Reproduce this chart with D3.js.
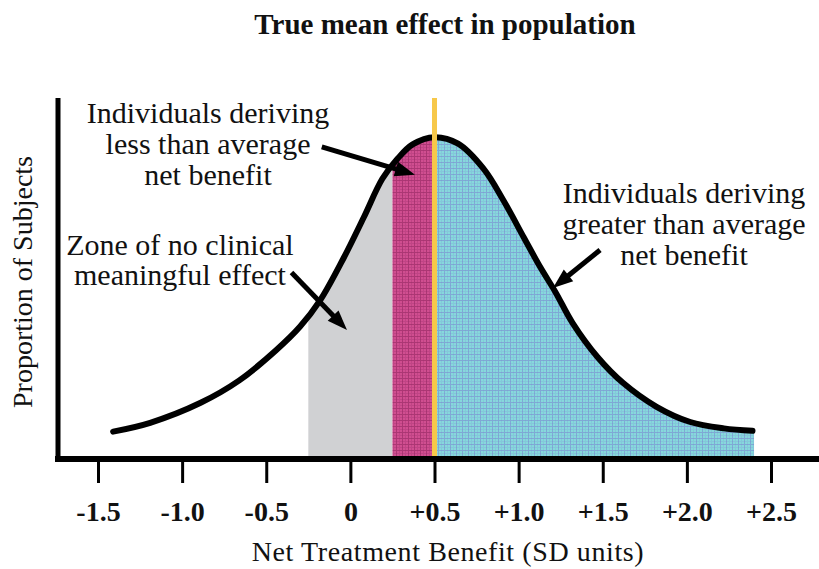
<!DOCTYPE html>
<html>
<head>
<meta charset="utf-8">
<script src="https://cdn.jsdelivr.net/npm/d3@7"></script>
<style>
  body { margin: 0; background: #fff; }
  text { font-family: "Liberation Serif", "DejaVu Serif", serif; fill: #111; }
</style>
</head>
<body>
<div id="chart"></div>
<script>
// distribution curve (x = SD units, y = proportion, arbitrary units)
const curveX = [-1.41, -1.19, -0.89, -0.66, -0.44, -0.30, -0.18, -0.04, 0.08, 0.19, 0.28, 0.37, 0.50,
                0.64, 0.79, 0.91, 1.03, 1.13, 1.22, 1.32, 1.47, 1.62, 1.82, 2.02, 2.22, 2.39]
const curveY = [0.033, 0.044, 0.069, 0.097, 0.135, 0.164, 0.197, 0.250, 0.301, 0.349, 0.374, 0.392, 0.401,
                0.393, 0.362, 0.322, 0.276, 0.238, 0.207, 0.169, 0.126, 0.094, 0.064, 0.045, 0.037, 0.034]

const tickValues = [-1.5, -1.0, -0.5, 0, 0.5, 1.0, 1.5, 2.0, 2.5]
const tickLabels = ["-1.5", "-1.0", "-0.5", "0", "+0.5", "+1.0", "+1.5", "+2.0", "+2.5"]

// shaded zones under the curve
const zoneNames = ["noEffect", "less", "greater"]
const zoneStart = [-0.25, 0.25, 0.5]
const zoneEnd = [0.25, 0.5, 2.4]
const meanEffect = 0.5

const width = 819, height = 569

const svg = d3.select("#chart").append("svg")
    .attr("width", width)
    .attr("height", height)

var x = d3.scaleLinear().domain([-1.5, 2.5]).range([98, 771])
var y = d3.scaleLinear().domain([0, 0.45]).range([458, 98])

const pts = curveX.map((d, i) => [d, curveY[i]])

// textures
const defs = svg.append("defs")
function hatch(id, base, ink, size, o1, o2) {
  const p = defs.append("pattern").attr("id", id)
      .attr("patternUnits", "userSpaceOnUse")
      .attr("width", size).attr("height", size)
  p.append("rect").attr("width", size).attr("height", size).attr("fill", base)
  p.append("path").attr("d", `M0,0.5H${size}M0.5,0V${size}`)
      .attr("stroke", ink).attr("stroke-width", 1).attr("opacity", o1)
  p.append("path").attr("d", `M0,${size / 2 + 0.5}H${size}M${size / 2 + 0.5},0V${size}`)
      .attr("stroke", ink).attr("stroke-width", 1).attr("opacity", o2)
}
hatch("pinkHatch", "#d04e90", "#9c2d68", 6, 0.7, 0.3)
hatch("cyanHatch", "#86d8dc", "#7a82d0", 6, 0.55, 0.2)
const zoneFill = { noEffect: "#d0d1d3", less: "url(#pinkHatch)", greater: "url(#cyanHatch)" }

zoneNames.forEach((z, i) => {
  defs.append("clipPath").attr("id", "clip-" + z)
    .append("rect")
      .attr("x", x(zoneStart[i]))
      .attr("width", x(zoneEnd[i]) - x(zoneStart[i]))
      .attr("y", 0).attr("height", height)
})

const area = d3.area()
    .x(d => x(d[0]))
    .y0(y(0))
    .y1(d => y(d[1]))
    .curve(d3.curveCatmullRom.alpha(0.5))

const line = d3.line()
    .x(d => x(d[0]))
    .y(d => y(d[1]))
    .curve(d3.curveCatmullRom.alpha(0.5))

// extend the filled area a little past the end of the line, as in the drawing
const areaPts = pts.concat([[zoneEnd[2], curveY[curveY.length - 1]]])

svg.selectAll(".zone")
  .data(zoneNames)
  .enter()
  .append("path")
    .attr("class", "zone")
    .attr("d", area(areaPts))
    .attr("clip-path", d => `url(#clip-${d})`)
    .attr("fill", d => zoneFill[d])

svg.append("path")
    .attr("d", line(pts))
    .attr("fill", "none")
    .attr("stroke", "#000")
    .attr("stroke-width", 6)
    .attr("stroke-linecap", "round")

// mean effect line
svg.append("line")
    .attr("x1", x(meanEffect)).attr("x2", x(meanEffect))
    .attr("y1", y.range()[1]).attr("y2", y(0))
    .attr("stroke", "#f7c84a")
    .attr("stroke-width", 5)

// axes
const xAxis = svg.append("g")
    .attr("transform", `translate(0,${y(0) + 3})`)
    .call(d3.axisBottom(x)
        .tickValues(tickValues)
        .tickFormat((d, i) => tickLabels[i])
        .tickSize(22)
        .tickSizeOuter(0)
        .tickPadding(18))
xAxis.select(".domain").remove()
xAxis.selectAll(".tick line").attr("stroke", "#000").attr("stroke-width", 3)
xAxis.selectAll(".tick text")
    .attr("fill", "#111")
    .style("font-family", '"Liberation Serif", serif')
    .style("font-size", "28px")
    .style("font-weight", "bold")

svg.append("line")
    .attr("x1", 55).attr("x2", width)
    .attr("y1", y(0) + 1).attr("y2", y(0) + 1)
    .attr("stroke", "#000").attr("stroke-width", 6)

const yAxis = svg.append("g")
    .attr("transform", "translate(58,0)")
    .call(d3.axisLeft(y).tickValues([]).tickSizeOuter(0))
yAxis.select(".domain").attr("stroke", "#000").attr("stroke-width", 5)
yAxis.select(".domain").attr("d", `M0,${y.range()[1]}V${y(0) + 4}`)

// titles
svg.append("text")
    .attr("x", 445).attr("y", 34)
    .attr("text-anchor", "middle")
    .style("font-size", "29px")
    .style("font-weight", "bold")
    .text("True mean effect in population")

svg.append("text")
    .attr("x", 448).attr("y", 561)
    .attr("text-anchor", "middle")
    .style("font-size", "28px")
    .style("letter-spacing", "0.6px")
    .text("Net Treatment Benefit (SD units)")

svg.append("text")
    .attr("transform", "translate(32,282) rotate(-90)")
    .attr("text-anchor", "middle")
    .style("font-size", "28px")
    .text("Proportion of Subjects")

// annotations with arrows (positions in data units)
function arrow(ax, ay, bx, by) {
  const x1 = x(ax), y1 = y(ay), x2 = x(bx), y2 = y(by)
  const len = Math.hypot(x2 - x1, y2 - y1)
  const ux = (x2 - x1) / len, uy = (y2 - y1) / len
  const head = 20, half = 7.5
  svg.append("line")
      .attr("x1", x1).attr("y1", y1)
      .attr("x2", x2 - ux * (head - 4)).attr("y2", y2 - uy * (head - 4))
      .attr("stroke", "#000").attr("stroke-width", 5)
  const bxp = x2 - ux * head, byp = y2 - uy * head
  svg.append("path")
      .attr("d", `M${x2},${y2}L${bxp - uy * half},${byp + ux * half}L${bxp + uy * half},${byp - ux * half}Z`)
      .attr("fill", "#000")
}

function label(cx, cy, lines, lh) {
  const t = svg.append("text")
      .attr("text-anchor", "middle")
      .style("font-size", "30px")
  lines.forEach((l, i) => {
    t.append("tspan").attr("x", x(cx)).attr("y", y(cy) + i * lh).text(l)
  })
}

label(-0.846, 0.419, ["Individuals deriving", "less than average", "net benefit"], 31)
arrow(-0.17, 0.389, 0.384, 0.354)

label(-1.013, 0.254, ["Zone of no clinical", "meaningful effect"], 30)
arrow(-0.35, 0.232, -0.02, 0.16)

label(1.983, 0.319, ["Individuals deriving", "greater than average", "net benefit"], 31)
arrow(1.484, 0.26, 1.204, 0.2125)
</script>
</body>
</html>
